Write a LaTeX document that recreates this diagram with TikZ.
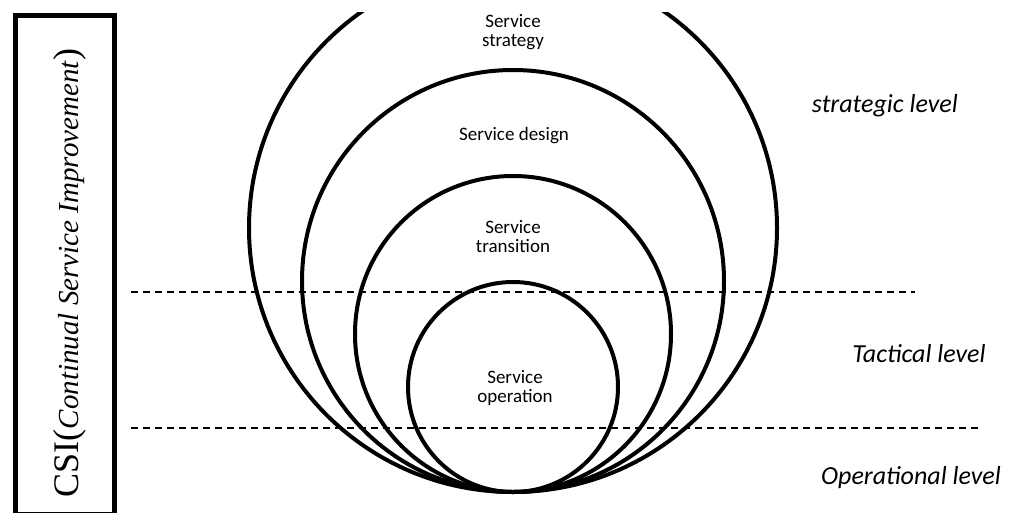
\documentclass[tikz,border=0pt]{standalone}
\usepackage{fontspec}
\setmainfont{Liberation Serif}
\newfontfamily\labelfont{Carlito}

\begin{document}
\begin{tikzpicture}[x=1pt,y=-1pt,
    ring/.style={line width=4pt},
    levelline/.style={dash pattern=on 7pt off 5pt, line width=1.6pt},
    phase/.style={font=\labelfont\fontsize{19}{19}\selectfont, align=center, inner sep=0pt},
    tier/.style={font=\labelfont\itshape\fontsize{26}{26}\selectfont, inner sep=0pt}]
    \useasboundingbox (0,0) rectangle (1012,512);
    % Define touching point of the circles
    \def\cx{513}
    \def\cy{492}

    % 1. CSI frame
    \draw[line width=5pt] (15.5,15.5) rectangle (114.5,514);
    \node[rotate=90] (csi) at (70,273) {\fontsize{36}{36}\selectfont CSI(\fontsize{29}{29}\selectfont\itshape Continual Service Improvement\/\upshape\fontsize{36}{36}\selectfont)};

    % 2. Nested circles, all touching at the bottom
    \begin{scope}
        \clip (0,12) rectangle (1012,512);
        \foreach \R in {264,211,158,105} {
            \draw[ring] (\cx,{\cy-\R}) circle(\R pt);
        }
    \end{scope}

    % 3. Level lines
    \coordinate (upL) at (131,292);
    \coordinate (upR) at (915,292);
    \coordinate (lowL) at (131,428);
    \coordinate (lowR) at (980,428);
    \draw[levelline] (upL) -- (upR);
    \draw[levelline] (lowL) -- (lowR);

    % 4. Phase labels
    \node[phase] (strategy) at (513,32) {Service\\strategy};
    \node[phase] (design) at (514,136) {Service design};
    \node[phase] (transition) at (513,237) {Service\\transition};
    \node[phase] (operation) at (515,388) {Service\\operation};

    % 5. Level labels
    \node[tier, anchor=east] (strategic) at (958,106) {strategic level};
    \node[tier] (tactical) at (919,354) {Tactical level};
    \node[tier] (operational) at (911,478) {Operational level};
\end{tikzpicture}
\end{document}
